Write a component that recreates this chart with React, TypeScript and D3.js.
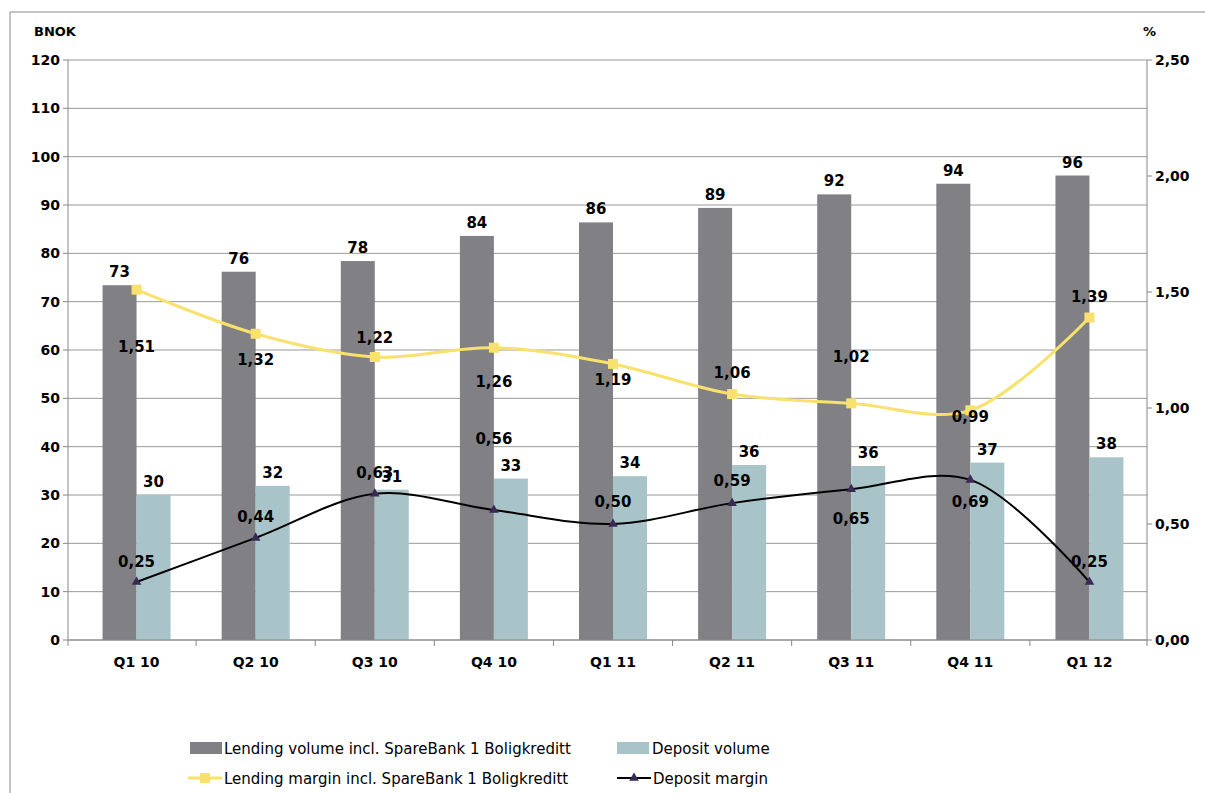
import * as d3 from "d3";

const categories = ["Q1 10", "Q2 10", "Q3 10", "Q4 10", "Q1 11", "Q2 11", "Q3 11", "Q4 11", "Q1 12"];
const lendingVolume = [73.4, 76.2, 78.4, 83.6, 86.4, 89.4, 92.2, 94.4, 96.1];
const depositVolume = [30.0, 31.9, 31.1, 33.4, 33.9, 36.2, 36.0, 36.7, 37.8];
const lendingMargin = [1.51, 1.32, 1.22, 1.26, 1.19, 1.06, 1.02, 0.99, 1.39];
const depositMargin = [0.25, 0.44, 0.63, 0.56, 0.5, 0.59, 0.65, 0.69, 0.25];
const leftTicks = [0, 10, 20, 30, 40, 50, 60, 70, 80, 90, 100, 110, 120];
const rightTicks = [0, 0.5, 1, 1.5, 2, 2.5];

// label offsets (px) relative to points
const lmOffset = [57, 26, -19, 34, 16, -21, -46, 7, -21];
const dmOffset = [-20, -21, -21, -71, -22, -22, 30, 22, -20];

const fmt = (v: number) => v.toFixed(2).replace(".", ",");

export default function App() {
  const W = 1205, H = 793;
  const left = 68, right = 1147, top = 60, bottom = 640;
  const x = d3.scaleBand().domain(categories).range([77, 1149]);
  const yL = d3.scaleLinear().domain([0, 120]).range([bottom, top]);
  const yR = d3.scaleLinear().domain([0, 2.5]).range([bottom, top]);
  const bw = 34;
  const cx = (c: string) => (x(c) as number) + x.bandwidth() / 2;
  const line = d3.line<number>().x((_, i) => cx(categories[i])).curve(d3.curveCatmullRom.alpha(0.5));
  const lmPath = line.y((d) => yR(d))(lendingMargin) as string;
  const dmPath = line.y((d) => yR(d))(depositMargin) as string;
  const font = "Verdana, 'DejaVu Sans', sans-serif";
  return (
    <svg width={W} height={H} style={{ position: "absolute", left: 0, top: 0 }} fontFamily={font}>
      <rect x={0} y={0} width={W} height={H} fill="white" />
      <path d={`M10,${H} V12 H${W}`} fill="none" stroke="#888" />
      {leftTicks.map((t) => (
        <g key={t}>
          <line x1={left} x2={right} y1={yL(t)} y2={yL(t)} stroke="#999" />
          <line x1={left - 5} x2={left} y1={yL(t)} y2={yL(t)} stroke="#888" />
          <text x={left - 8} y={yL(t) + 5} textAnchor="end" fontSize={14} fontWeight="bold">{t}</text>
        </g>
      ))}
      {rightTicks.map((t) => (
        <g key={t}>
          <line x1={right} x2={right + 5} y1={yR(t)} y2={yR(t)} stroke="#888" />
          <text x={right + 8} y={yR(t) + 5} fontSize={14} fontWeight="bold">{fmt(t)}</text>
        </g>
      ))}
      <text x={34} y={36} fontSize={13} fontWeight="bold">BNOK</text>
      <text x={1143} y={36} fontSize={13} fontWeight="bold">%</text>
      {categories.map((c, i) => (
        <g key={c}>
          <rect x={cx(c) - bw} y={yL(lendingVolume[i])} width={bw} height={bottom - yL(lendingVolume[i])} fill="#818185" />
          <rect x={cx(c)} y={yL(depositVolume[i])} width={bw} height={bottom - yL(depositVolume[i])} fill="#a9c4c9" />
          <text x={cx(c) - bw / 2} y={yL(lendingVolume[i]) - 8} textAnchor="middle" fontSize={15} fontWeight="bold">{Math.round(lendingVolume[i])}</text>
          <text x={cx(c) + bw / 2} y={yL(depositVolume[i]) - 8} textAnchor="middle" fontSize={15} fontWeight="bold">{Math.round(depositVolume[i])}</text>
          {i > 0 && <line x1={x(c) as number} x2={x(c) as number} y1={bottom} y2={bottom + 6} stroke="#888" />}
          <text x={cx(c)} y={bottom + 27} textAnchor="middle" fontSize={14} fontWeight="bold">{c}</text>
        </g>
      ))}
      <line x1={left} x2={left} y1={top} y2={bottom + 6} stroke="#888" />
      <line x1={right} x2={right} y1={top} y2={bottom + 6} stroke="#888" />
      <line x1={left} x2={right} y1={bottom} y2={bottom} stroke="#888" />
      <path d={lmPath} fill="none" stroke="#f8e16c" strokeWidth={3} />
      <path d={dmPath} fill="none" stroke="#000" strokeWidth={2} />
      {categories.map((c, i) => (
        <g key={"m" + c}>
          <rect x={cx(c) - 5} y={yR(lendingMargin[i]) - 5} width={10} height={10} fill="#f8e16c" />
          <path d={d3.symbol(d3.symbolTriangle, 40)() as string} transform={`translate(${cx(c)},${yR(depositMargin[i])})`} fill="#3a2a55" />
          <text x={cx(c)} y={yR(lendingMargin[i]) + lmOffset[i] + 5} textAnchor="middle" fontSize={15} fontWeight="bold">{fmt(lendingMargin[i])}</text>
          <text x={cx(c)} y={yR(depositMargin[i]) + dmOffset[i] + 5} textAnchor="middle" fontSize={15} fontWeight="bold">{fmt(depositMargin[i])}</text>
        </g>
      ))}
      <g fontSize={15}>
        <rect x={190} y={742} width={32} height={12} fill="#818185" />
        <text x={224} y={754}>Lending volume incl. SpareBank 1 Boligkreditt</text>
        <rect x={617} y={742} width={32} height={12} fill="#a9c4c9" />
        <text x={652} y={754}>Deposit volume</text>
        <line x1={188} x2={222} y1={778} y2={778} stroke="#f8e16c" strokeWidth={3} />
        <rect x={200} y={773} width={10} height={10} fill="#f8e16c" />
        <text x={224} y={784}>Lending margin incl. SpareBank 1 Boligkreditt</text>
        <line x1={617} x2={651} y1={778} y2={778} stroke="#000" strokeWidth={2} />
        <path d={d3.symbol(d3.symbolTriangle, 40)() as string} transform="translate(634,778)" fill="#3a2a55" />
        <text x={653} y={784}>Deposit margin</text>
      </g>
    </svg>
  );
}
